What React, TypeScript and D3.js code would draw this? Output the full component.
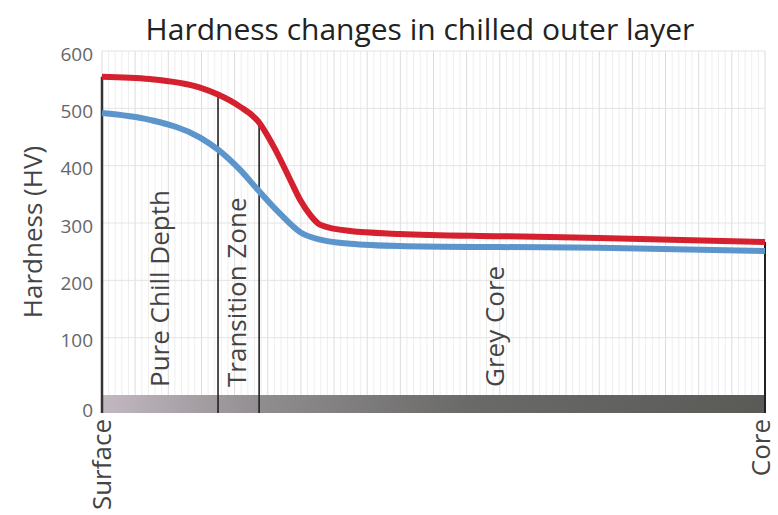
import React, { useEffect, useRef } from 'react';
import * as d3 from 'd3';

// depth across the casting, 0 = surface, 100 = core
const redDepth = [0, 7.2, 14.8, 17.5, 20.8, 23.5, 26, 28.4, 29.9, 31.4, 32.9, 37.4, 44.9, 60, 75, 100];
const redHV = [555, 551, 536, 524, 503, 478, 431, 375, 340, 314, 297, 286, 281, 277, 274, 267];
const blueDepth = [0, 7.2, 14.8, 17.5, 20.8, 23.5, 26.7, 29.9, 32.9, 37.4, 44.9, 60, 75, 100];
const blueHV = [492, 480, 449, 428, 393, 358, 318, 284, 271, 264, 260, 258, 257, 251];
const yTicks = [0, 100, 200, 300, 400, 500, 600];
const zoneEdges = [17.5, 23.7];
const zoneLabels = [
  { text: 'Pure Chill Depth', at: 8.75 },
  { text: 'Transition Zone', at: 20.4 },
  { text: 'Grey Core', at: 59.3 },
];

const App: React.FC = () => {
  const svgRef = useRef<SVGSVGElement>(null);

  useEffect(() => {
    if (!svgRef.current) return;
    const svg = d3.select(svgRef.current);
    svg.selectAll('*').remove();

    const font = '"Open Sans", sans-serif';
    const x = d3.scaleLinear().domain([0, 100]).range([102, 765]);
    const y = d3.scaleLinear().domain([0, 600]).range([395, 51]);
    const bandBottom = 413;

    // grid
    const grid = svg.append('g');
    grid.selectAll('line.minor')
      .data(d3.range(0, 101, 1))
      .enter().append('line')
      .attr('x1', d => x(d)).attr('x2', d => x(d))
      .attr('y1', y(600)).attr('y2', y(0))
      .attr('stroke', d => (d % 5 === 0 ? '#dcdcdc' : '#eeeeee'))
      .attr('stroke-width', 1);
    grid.selectAll('line.h')
      .data(yTicks.slice(1))
      .enter().append('line')
      .attr('x1', x(0)).attr('x2', x(100))
      .attr('y1', d => y(d)).attr('y2', d => y(d))
      .attr('stroke', '#e4e4e4');

    // band along the bottom
    const grad = svg.append('defs').append('linearGradient')
      .attr('id', 'band').attr('x1', '0%').attr('x2', '100%');
    grad.append('stop').attr('offset', '0%').attr('stop-color', '#c2b8c2');
    grad.append('stop').attr('offset', '25%').attr('stop-color', '#8f8c8e');
    grad.append('stop').attr('offset', '55%').attr('stop-color', '#6a6a68');
    grad.append('stop').attr('offset', '100%').attr('stop-color', '#5a5a57');
    svg.append('rect')
      .attr('x', x(0)).attr('y', y(0))
      .attr('width', x(100) - x(0)).attr('height', bandBottom - y(0))
      .attr('fill', 'url(#band)');

    const redPts = redDepth.map((d, i) => [x(d), y(redHV[i])] as [number, number]);
    const bluePts = blueDepth.map((d, i) => [x(d), y(blueHV[i])] as [number, number]);
    const pathGen = d3.line().curve(d3.curveMonotoneX);

    const redAt = (d: number) => {
      const i = d3.bisectLeft(redDepth, d);
      const t = (d - redDepth[i - 1]) / (redDepth[i] - redDepth[i - 1]);
      return redHV[i - 1] + t * (redHV[i] - redHV[i - 1]);
    };

    // zone dividers and edges
    svg.append('line')
      .attr('x1', x(0)).attr('x2', x(0))
      .attr('y1', y(redHV[0])).attr('y2', bandBottom)
      .attr('stroke', '#333').attr('stroke-width', 2.5);
    svg.append('line')
      .attr('x1', x(100)).attr('x2', x(100))
      .attr('y1', y(redHV[redHV.length - 1])).attr('y2', bandBottom)
      .attr('stroke', '#222').attr('stroke-width', 2);
    svg.selectAll('line.zone')
      .data(zoneEdges)
      .enter().append('line')
      .attr('x1', d => x(d)).attr('x2', d => x(d))
      .attr('y1', d => y(redAt(d))).attr('y2', bandBottom)
      .attr('stroke', '#222').attr('stroke-width', 1.6);

    svg.append('path')
      .attr('d', pathGen(bluePts))
      .attr('fill', 'none').attr('stroke', '#5b95cc').attr('stroke-width', 6);
    svg.append('path')
      .attr('d', pathGen(redPts))
      .attr('fill', 'none').attr('stroke', '#d4202f').attr('stroke-width', 6);

    // zone labels
    svg.selectAll('text.zone')
      .data(zoneLabels)
      .enter().append('text')
      .attr('transform', d => `translate(${x(d.at)},387) rotate(-90)`)
      .attr('dy', '0.35em')
      .attr('font-family', font).attr('font-size', 26)
      .attr('fill', '#444')
      .text(d => d.text);

    // y tick labels
    svg.selectAll('text.tick')
      .data(yTicks)
      .enter().append('text')
      .attr('x', 93)
      .attr('y', d => (d === 0 ? 410 : y(d) + 3))
      .attr('dy', '0.35em')
      .attr('text-anchor', 'end')
      .attr('font-family', font).attr('font-size', 19)
      .attr('fill', '#666')
      .text(d => d);

    // x labels
    [
      { t: 'Surface', v: 0, dx: 0 },
      { t: 'Core', v: 100, dx: -4 },
    ].forEach(l => {
      svg.append('text')
        .attr('transform', `translate(${x(l.v) + l.dx},419) rotate(-90)`)
        .attr('dy', '0.35em')
        .attr('text-anchor', 'end')
        .attr('font-family', font).attr('font-size', 26)
        .attr('fill', '#444')
        .text(l.t);
    });

    svg.append('text')
      .attr('transform', 'translate(33,232) rotate(-90)')
      .attr('dy', '0.35em')
      .attr('text-anchor', 'middle')
      .attr('font-family', font).attr('font-size', 26)
      .attr('fill', '#444')
      .text('Hardness (HV)');

    svg.append('text')
      .attr('x', 420).attr('y', 29)
      .attr('dy', '0.35em')
      .attr('text-anchor', 'middle')
      .attr('font-family', font).attr('font-size', 30)
      .attr('fill', '#222')
      .text('Hardness changes in chilled outer layer');
  }, []);

  return (
    <svg ref={svgRef} width={778} height={515}
      style={{ position: 'absolute', left: 0, top: 0, background: '#fff' }} />
  );
};

export default App;
